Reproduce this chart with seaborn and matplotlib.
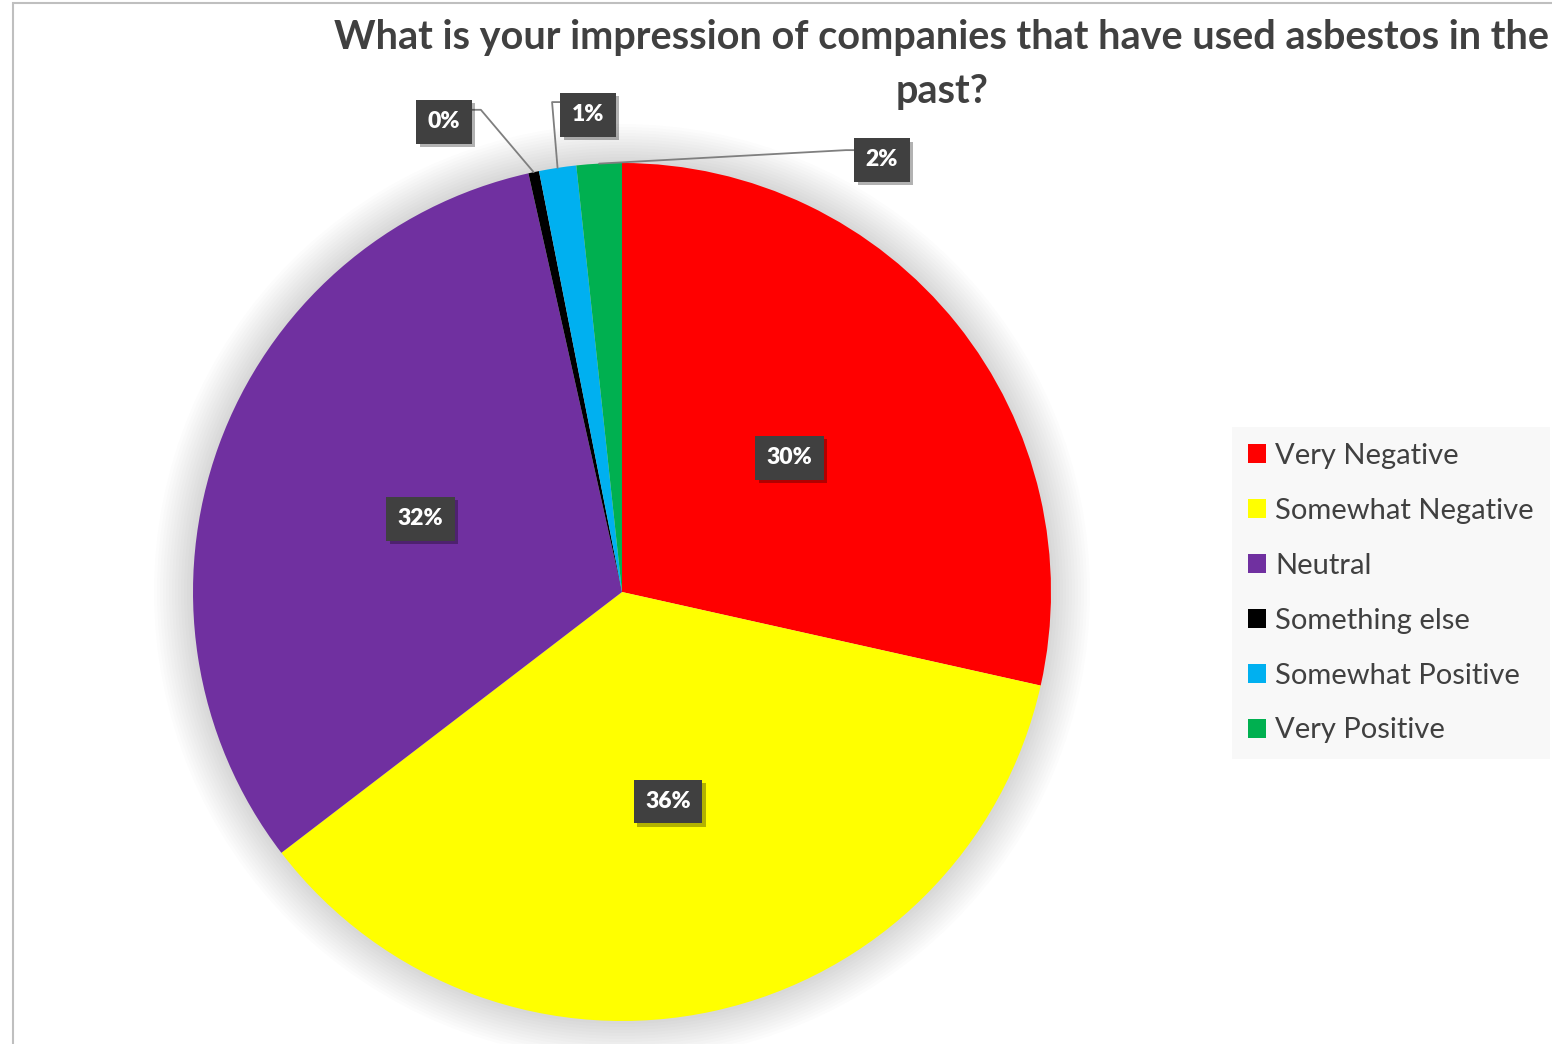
import matplotlib
matplotlib.use("Agg")
import numpy as np
import matplotlib.pyplot as plt
import matplotlib.patheffects as pe
from matplotlib.patches import Circle, Rectangle
import seaborn as sns

# ─────────────────────────────────────────────
# DATA
# ─────────────────────────────────────────────
CATEGORIES = ["Very Negative", "Somewhat Negative", "Neutral",
              "Something else", "Somewhat Positive", "Very Positive"]
SHARES     = [28.5, 36.1, 31.9, 0.4, 1.4, 1.7]   # slice sizes
LABELS     = ["30%", "36%", "32%", "0%", "1%", "2%"]
COLORS     = ["#FF0000", "#FFFF00", "#7030A0", "#000000", "#00B0F0", "#00B050"]
TITLE_1    = "What is your impression of companies that have used asbestos in the"
TITLE_2    = "past?"

# small slices get their labels outside, with leader lines (label pos, elbow)
OUTSIDE = {3: ((-0.415, 1.096), (-0.329, 1.124)),
           4: ((-0.079, 1.112), (-0.163, 1.142)),
           5: ((0.606, 1.007), (0.522, 1.030))}
TEXT_GREY = "#404040"

sns.set_theme(style="white")
plt.rcParams["font.family"] = ["Lato", "DejaVu Sans"]

W, H = 1552, 1044
fig = plt.figure(figsize=(W / 100, H / 100), dpi=100)
fig.patch.set_facecolor("white")

# pie axes: centre (622, 592) px, radius 429 px
cx, cy, r = 622, 592, 429
ax = fig.add_axes([(cx - r) / W, (H - cy - r) / H, 2 * r / W, 2 * r / H])

# soft glow round the pie
for i in range(1, 14):
    ax.add_patch(Circle((0, 0), 1 + 0.007 * i, color="black", alpha=0.011,
                        lw=0, zorder=0, clip_on=False))

wedges, _ = ax.pie(SHARES, colors=COLORS, startangle=90, counterclock=False,
                   radius=1, wedgeprops=dict(linewidth=0, zorder=2))
ax.set_xlim(-1, 1)
ax.set_ylim(-1, 1)
ax.set_aspect("equal")
ax.axis("off")

box = dict(boxstyle="square,pad=0.5", facecolor="#404040", edgecolor="none")
shadow = [pe.SimplePatchShadow(offset=(2.5, -2.5), shadow_rgbFace="black", alpha=0.3),
          pe.Normal()]

for i, w in enumerate(wedges):
    ang = np.deg2rad((w.theta1 + w.theta2) / 2)
    if i in OUTSIDE:
        (lx, ly), (ex, ey) = OUTSIDE[i]
        px, py = np.cos(ang), np.sin(ang)
        ax.plot([px, ex, lx], [py, ey, ey], color="#7F7F7F", lw=1.3,
                zorder=3, clip_on=False)
    else:
        lx, ly = 0.5 * np.cos(ang), 0.5 * np.sin(ang)
    t = ax.text(lx, ly, LABELS[i], ha="center", va="center", color="white",
                fontsize=16.5, fontweight="heavy", bbox=box, zorder=5, clip_on=False)
    t.get_bbox_patch().set_path_effects(shadow)

# title (runs off the right edge, like the source)
fig.text(942 / W, 1 - 38 / H, TITLE_1, ha="center", va="center",
         fontsize=28.5, fontweight="bold", color=TEXT_GREY)
fig.text(942 / W, 1 - 91 / H, TITLE_2, ha="center", va="center",
         fontsize=28.5, fontweight="bold", color=TEXT_GREY)

leg = ax.legend(wedges, CATEGORIES, loc="upper left",
                bbox_to_anchor=(1232 / W, 1 - 427 / H), bbox_transform=fig.transFigure,
                frameon=True, facecolor="#F8F8F8", edgecolor="none", fancybox=False,
                framealpha=1, fontsize=21, labelcolor=TEXT_GREY,
                handlelength=0.62, handleheight=0.62, handletextpad=0.3,
                labelspacing=0.99, borderpad=0.55, borderaxespad=0)

# chart frame: only left and top edges are visible in the source
fig.patches.append(Rectangle((13 / W, -0.1), 2, 1.1 - 3 / H, transform=fig.transFigure,
                             fill=False, edgecolor="#BFBFBF", lw=1.5, zorder=0))

fig.savefig("out.png", dpi=100, facecolor="white")
